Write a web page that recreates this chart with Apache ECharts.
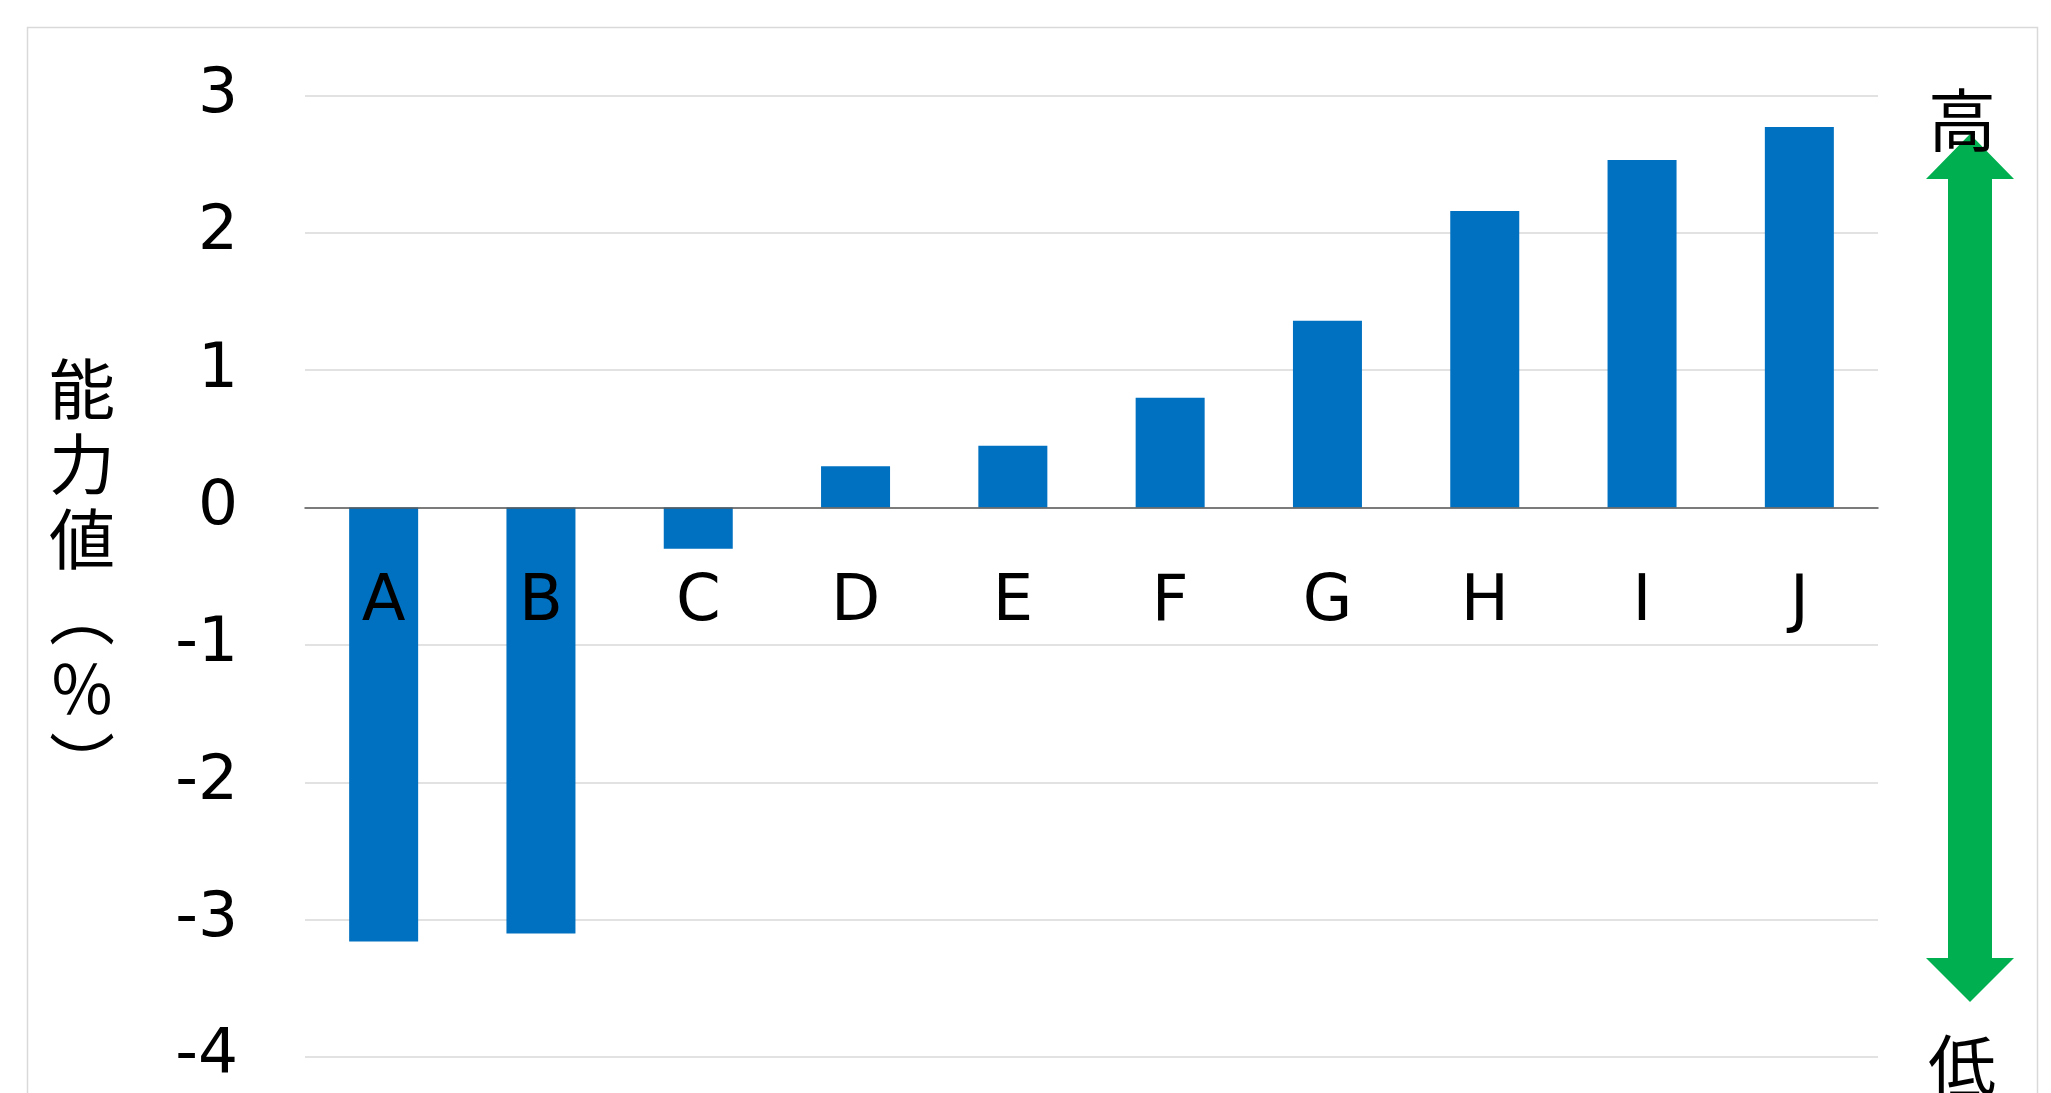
<!DOCTYPE html>
<html>
<head>
<meta charset="utf-8">
<script src="https://cdn.jsdelivr.net/npm/echarts@6/dist/echarts.min.js"></script>
<style>
  html, body { margin: 0; padding: 0; background: #fff; }
  #chart { width: 2051px; height: 1093px; }
</style>
</head>
<body>
<div id="chart"></div>
<script>
const categories = ["A", "B", "C", "D", "E", "F", "G", "H", "I", "J"];
const values = [-3.16, -3.10, -0.30, 0.30, 0.45, 0.80, 1.36, 2.16, 2.53, 2.77];
const yTicks = { min: -4, max: 3, interval: 1 };
const axisTitle = ["能", "力", "値", "︵", "％", "︶"];

const latinFont = "'DejaVu Sans', 'Noto Sans CJK JP', sans-serif";
const cjkFont = "'Noto Sans CJK JP', sans-serif";

const chart = echarts.init(document.getElementById("chart"));

// double-headed arrow on the right (decoration)
const ax = 1970;
const arrowPoints = [
  [ax, 134], [ax + 44, 179], [ax + 22, 179], [ax + 22, 958], [ax + 44, 958],
  [ax, 1002], [ax - 44, 958], [ax - 22, 958], [ax - 22, 179], [ax - 44, 179],
];

const option = {
  animation: false,
  backgroundColor: "#fff",
  grid: {
    left: 305,
    right: 173,
    top: 95.5,
    bottom: 36,
    containLabel: false,
    outerBoundsMode: "none",
  },
  xAxis: {
    type: "category",
    data: categories,
    z: 10,
    axisLine: {
      onZero: true,
      lineStyle: { color: "#595959", width: 1.5 },
    },
    axisTick: { show: false },
    axisLabel: {
      color: "#000",
      fontSize: 64,
      fontFamily: latinFont,
      // labels sit just under the zero line, as in the original
      margin: -486,
    },
  },
  yAxis: {
    type: "value",
    min: yTicks.min,
    max: yTicks.max,
    interval: yTicks.interval,
    name: axisTitle.join("\n"),
    nameLocation: "middle",
    nameRotate: 0,
    nameGap: 223,
    nameTextStyle: {
      color: "#000",
      fontSize: 66,
      lineHeight: 75,
      fontFamily: cjkFont,
      align: "center",
      verticalAlign: "middle",
    },
    axisLine: { show: false },
    axisTick: { show: false },
    axisLabel: {
      color: "#000",
      fontSize: 63,
      fontFamily: latinFont,
      margin: 67,
    },
    splitLine: {
      lineStyle: { color: "#d9d9d9", width: 1.5 },
    },
  },
  series: [
    {
      type: "bar",
      data: values,
      barWidth: 69,
      itemStyle: { color: "#0070C0" },
    },
  ],
  graphic: [
    {
      type: "rect",
      z: -1,
      shape: { x: 27.5, y: 27.5, width: 2010, height: 1100 },
      style: { fill: null, stroke: "#d9d9d9", lineWidth: 1.5 },
    },
    {
      type: "polygon",
      z: 10,
      shape: { points: arrowPoints },
      style: { fill: "#00B050" },
    },
    {
      type: "text",
      z: 20,
      x: 1962,
      y: 120,
      style: {
        text: "高",
        fill: "#000",
        font: "68px " + cjkFont,
        textAlign: "center",
        textVerticalAlign: "middle",
      },
    },
    {
      type: "text",
      z: 20,
      x: 1962,
      y: 1066,
      style: {
        text: "低",
        fill: "#000",
        font: "68px " + cjkFont,
        textAlign: "center",
        textVerticalAlign: "middle",
      },
    },
  ],
};

chart.setOption(option);
</script>
</body>
</html>
